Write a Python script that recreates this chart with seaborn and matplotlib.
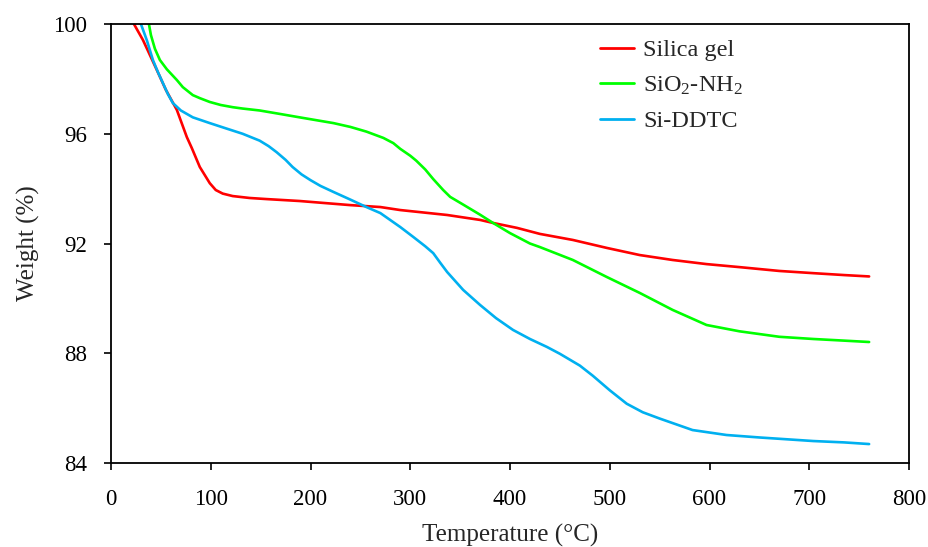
import numpy as np
import pandas as pd
import matplotlib
matplotlib.use("Agg")
import matplotlib.pyplot as plt
import seaborn as sns

# Thermogravimetric curves: temperature (°C) vs remaining weight (%)
silica_T = [23, 32, 46, 55, 66, 76, 81, 89, 99, 105, 112, 122, 139, 156, 189, 240,
            270, 290, 337, 370, 383, 407, 430, 463, 497, 530, 563, 597, 630, 670,
            704, 735, 760]
silica_W = [100.0, 99.42, 98.32, 97.6, 96.87, 95.88, 95.48, 94.79, 94.2, 93.95,
            93.82, 93.73, 93.66, 93.62, 93.55, 93.4, 93.33, 93.22, 93.04, 92.86,
            92.75, 92.57, 92.35, 92.13, 91.84, 91.58, 91.4, 91.25, 91.14, 91.0,
            90.92, 90.85, 90.8]

amine_T = [38, 40, 44, 49, 56, 66, 72, 82, 89, 99, 110, 122, 132, 149, 170, 189,
           210, 223, 240, 256, 273, 283, 290, 300, 306, 315, 323, 333, 340, 353,
           370, 383, 400, 420, 430, 463, 497, 530, 563, 597, 630, 670, 704, 735, 760]
amine_W = [100.0, 99.6, 99.1, 98.69, 98.35, 97.96, 97.7, 97.41, 97.3, 97.16, 97.05,
           96.97, 96.92, 96.85, 96.72, 96.6, 96.47, 96.39, 96.25, 96.08, 95.85,
           95.66, 95.45, 95.2, 95.02, 94.7, 94.35, 93.95, 93.7, 93.42, 93.05, 92.75,
           92.38, 92.0, 91.87, 91.4, 90.78, 90.2, 89.58, 89.03, 88.8, 88.6, 88.52,
           88.46, 88.41]

ddtc_T = [30, 33, 36, 42, 47, 52, 57, 62, 70, 82, 99, 115, 132, 149, 158, 166, 175,
          182, 191, 200, 210, 223, 240, 256, 270, 290, 303, 315, 323, 330, 337, 353,
          370, 386, 403, 420, 437, 450, 470, 483, 500, 517, 533, 550, 583, 617, 650,
          704, 735, 760]
ddtc_W = [100.0, 99.7, 99.4, 98.69, 98.25, 97.85, 97.45, 97.12, 96.85, 96.6, 96.39,
          96.2, 96.0, 95.75, 95.55, 95.33, 95.05, 94.79, 94.52, 94.31, 94.1, 93.88,
          93.6, 93.33, 93.11, 92.6, 92.24, 91.9, 91.65, 91.3, 90.96, 90.31, 89.76,
          89.28, 88.85, 88.52, 88.23, 87.98, 87.55, 87.18, 86.65, 86.16, 85.85, 85.62,
          85.2, 85.02, 84.93, 84.8, 84.75, 84.69]

labels = ["Silica gel", r"SiO$_\mathrm{2}$-NH$_\mathrm{2}$", "Si-DDTC"]
colors = ["#FF0000", "#00FF00", "#00B0F0"]

frames = []
for name, t, w in zip(labels, [silica_T, amine_T, ddtc_T], [silica_W, amine_W, ddtc_W]):
    frames.append(pd.DataFrame({"Temperature": t, "Weight": w, "Sample": name}))
data = pd.concat(frames, ignore_index=True)

sns.set_style("ticks")
plt.rcParams["font.family"] = ["Liberation Serif", "DejaVu Serif"]
plt.rcParams["mathtext.fontset"] = "custom"
plt.rcParams["mathtext.rm"] = "Liberation Serif"
plt.rcParams["mathtext.it"] = "Liberation Serif:italic"

fig = plt.figure(figsize=(9.29, 5.47), dpi=100)
ax = fig.add_axes([0.1195, 0.1536, 0.859, 0.8024])

sns.lineplot(data=data, x="Temperature", y="Weight", hue="Sample",
             palette=dict(zip(labels, colors)), hue_order=labels,
             linewidth=1.9, sort=False, estimator=None, ax=ax)

ax.set_xlim(0, 800)
ax.set_ylim(84, 100)
ax.set_xticks(np.arange(0, 801, 100))
ax.set_yticks(np.arange(84, 101, 4))
ax.tick_params(axis="both", direction="out", length=5, width=1.2,
               labelsize=16.5, colors="black")
ax.tick_params(axis="y", pad=12)
ax.tick_params(axis="x", pad=14)
for s in ax.spines.values():
    s.set_linewidth(1.3)
    s.set_color("black")

ax.set_xlabel("Temperature (°C)", fontsize=18, labelpad=10)
ax.set_ylabel("Weight (%)", fontsize=18, labelpad=10)

leg = ax.legend(loc="upper left", bbox_to_anchor=(0.598, 0.993), frameon=False,
                fontsize=17.5, handlelength=1.4, handletextpad=0.35,
                labelspacing=0.55, borderpad=0)
for line in leg.get_lines():
    line.set_linewidth(2.0)

fig.savefig("out.png", dpi=100)
